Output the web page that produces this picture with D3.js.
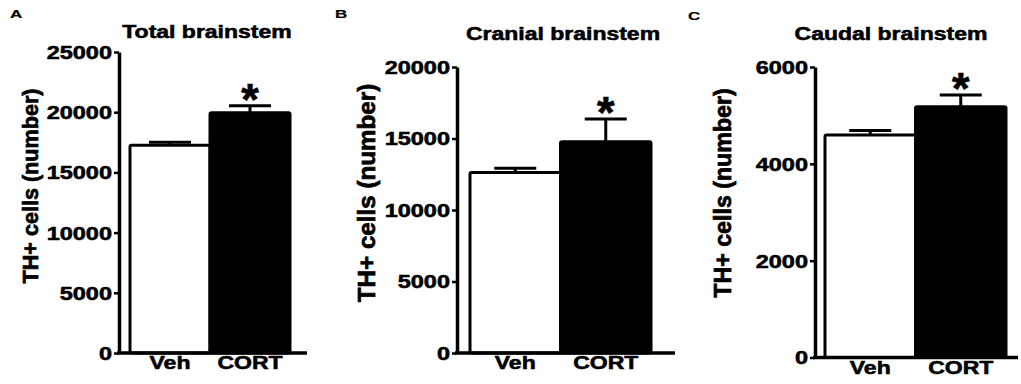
<!DOCTYPE html>
<html>
<head>
<meta charset="utf-8">
<script src="https://cdn.jsdelivr.net/npm/d3@7"></script>
<style>
  body { margin: 0; background: #fff; }
  text { font-family: "Liberation Sans", Arial, sans-serif; font-weight: bold; fill: #000;
         stroke: #000; stroke-width: 0.7px; }
</style>
</head>
<body>
<div class="chart"></div>
<script>
// values
var panelLetters = ['A', 'B', 'C'];
var titles = ['Total brainstem', 'Cranial brainstem', 'Caudal brainstem'];
var groups = ['Veh', 'CORT'];
var yMax = [25000, 20000, 6000];
var yTicks = [
  [0, 5000, 10000, 15000, 20000, 25000],
  [0, 5000, 10000, 15000, 20000],
  [0, 2000, 4000, 6000]
];
var vehMean = [17250, 12620, 4596];
var vehSem = [250, 300, 90];
var cortMean = [19960, 14780, 5180];
var cortSem = [580, 1590, 240];
var significant = [true, true, true];
var yLabel = 'TH+ cells (number)';

// where each panel sits on the page
var layout = [
  {letterX: 10, letterY: 18, axisX: 119, y0: 353, yTop: 52, xEnd: 307, barL: 130, barR: 290,
   titleX: 207, titleY: 38, labX: 38, labY: 186, labSize: 21.6},
  {letterX: 335, letterY: 18, axisX: 457, y0: 353, yTop: 67, xEnd: 675, barL: 470, barR: 651,
   titleX: 563, titleY: 40, labX: 375, labY: 193, labSize: 24.2},
  {letterX: 688, letterY: 20, axisX: 815, y0: 357.5, yTop: 67, xEnd: 1018, barL: 825, barR: 1006,
   titleX: 891, titleY: 40, labX: 731, labY: 193, labSize: 23.2}
];

var squash = 0.78; // the figure is vertically compressed

var svg = d3.select(".chart")
    .append("svg")
    .attr("width", 1021)
    .attr("height", 384);

function flatText(g, x, y, str, size, anchor, sy) {
  return g.append("text")
    .attr("transform", "translate(" + x + "," + y + ") scale(1," + (sy || squash) + ")")
    .attr("text-anchor", anchor || "start")
    .style("font-size", size + "px")
    .text(str);
}

layout.forEach(function (L, p) {
  var g = svg.append("g");

  var y = d3.scaleLinear().domain([0, yMax[p]]).range([L.y0, L.yTop]);
  var x = d3.scaleBand().domain(groups).range([L.barL, L.barR]).padding(0);

  var vals = [
    {grp: 'Veh', mean: vehMean[p], sem: vehSem[p], fill: '#fff'},
    {grp: 'CORT', mean: cortMean[p], sem: cortSem[p], fill: '#000'}
  ];

  // panel letter + title
  flatText(g, L.letterX, L.letterY, panelLetters[p], 17, "start", 0.66).style("stroke-width", "0.3px");
  flatText(g, L.titleX, L.titleY, titles[p], 23, "middle");

  // bars
  g.selectAll("rect.bar")
    .data(vals)
    .enter()
    .append("rect")
    .attr("class", "bar")
    .attr("x", function (d) { return x(d.grp); })
    .attr("y", function (d) { return y(d.mean); })
    .attr("width", x.bandwidth())
    .attr("height", function (d) { return L.y0 - y(d.mean); })
    .attr("rx", 1.5)
    .style("fill", function (d) { return d.fill; })
    .style("stroke", "#000")
    .style("stroke-width", 3)
    .style("stroke-linejoin", "round");

  // error bars (upper only)
  var cx = function (d) { return x(d.grp) + x.bandwidth() / 2; };
  g.selectAll("line.err")
    .data(vals)
    .enter()
    .append("line")
    .attr("x1", cx).attr("x2", cx)
    .attr("y1", function (d) { return y(d.mean); })
    .attr("y2", function (d) { return y(d.mean + d.sem); })
    .style("stroke", "#000").style("stroke-width", 3);
  g.selectAll("line.cap")
    .data(vals)
    .enter()
    .append("line")
    .attr("x1", function (d) { return cx(d) - 21; })
    .attr("x2", function (d) { return cx(d) + 21; })
    .attr("y1", function (d) { return y(d.mean + d.sem); })
    .attr("y2", function (d) { return y(d.mean + d.sem); })
    .style("stroke", "#000").style("stroke-width", 3);

  if (significant[p]) {
    var c = vals[1];
    g.append("text")
      .attr("x", cx(c))
      .attr("y", y(c.mean + c.sem) + 9)
      .attr("text-anchor", "middle")
      .style("font-size", "45px")
      .text("*");
  }

  // y axis
  var ax = g.append("g")
    .attr("transform", "translate(" + L.axisX + ",0)")
    .call(d3.axisLeft(y).tickValues(yTicks[p]).tickSize(5).tickSizeOuter(0).tickFormat(d3.format("d")));
  ax.select(".domain").style("stroke-width", 3.5);
  ax.selectAll(".tick line").style("stroke-width", 2.5);
  ax.selectAll(".tick text")
    .attr("x", null).attr("dy", null)
    .attr("transform", "translate(-7,6.4) scale(1," + squash + ")")
    .attr("font-family", null).attr("font-size", null)
    .style("font-size", "23.5px");

  // x axis: plain line + group labels
  g.append("line")
    .attr("x1", L.axisX - 2).attr("x2", L.xEnd)
    .attr("y1", L.y0).attr("y2", L.y0)
    .style("stroke", "#000").style("stroke-width", 3.5);
  var xa = g.append("g")
    .attr("transform", "translate(0," + L.y0 + ")")
    .call(d3.axisBottom(x).tickSize(0));
  xa.select(".domain").remove();
  xa.selectAll(".tick text")
    .attr("y", null).attr("dy", null)
    .attr("transform", "translate(0,16) scale(1," + squash + ")")
    .attr("font-family", null).attr("font-size", null)
    .style("font-size", "23px");

  // rotated y label
  g.append("text")
    .attr("transform", "translate(" + L.labX + "," + L.labY + ") rotate(-90)")
    .attr("text-anchor", "middle")
    .style("font-size", L.labSize + "px")
    .text(yLabel);
});
</script>
</body>
</html>
